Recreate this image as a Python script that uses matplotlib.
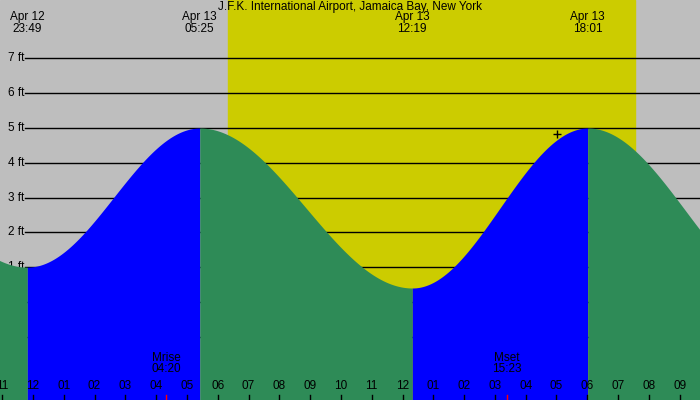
import numpy as np
import matplotlib
matplotlib.use("Agg")
import matplotlib.pyplot as plt

# extremes: hours since midnight Apr 13, height in ft
ext_hours = [-6.6, -0.183, 5.417, 12.317, 18.017, 24.4]
ext_heights = [5.0, 1.0, 5.0, 0.4, 5.0, 0.2]
ext_labels = [("Apr 12", "23:49"), ("Apr 13", "05:25"), ("Apr 13", "12:19"), ("Apr 13", "18:01")]
sunrise, sunset = 6.33, 19.55
moon_events = [(4.333, "Mrise", "04:20"), (15.383, "Mset", "15:23")]
ft_ticks = [-1, 0, 1, 2, 3, 4, 5, 6, 7]
x0, x1 = -1.07, 21.66
y0, y1 = -2.82, 8.68

plt.rcParams['font.family'] = ['Liberation Sans', 'DejaVu Sans']
fig = plt.figure(figsize=(7, 4), dpi=100)
ax = fig.add_axes([0, 0, 1, 1])
ax.set_xlim(x0, x1); ax.set_ylim(y0, y1); ax.axis('off')
ax.axvspan(x0, x1, color='#bebebe', zorder=0)
ax.axvspan(sunrise, sunset, color='#cccc00', zorder=0.5)
xl = x0 + 25/700*(x1-x0)
for f in ft_ticks:
    ax.plot([xl, x1], [f, f], color='black', lw=1, zorder=1)
    ax.text(xl - 0.02, f, f"{f} ft", ha='right', va='center', fontsize=8.5, zorder=1)

for i in range(len(ext_hours)-1):
    ha, hb = ext_hours[i], ext_hours[i+1]
    va, vb = ext_heights[i], ext_heights[i+1]
    t = np.linspace(ha, hb, 200)
    v = va + (vb - va) * (1 - np.cos(np.pi*(t-ha)/(hb-ha)))/2
    col = '#0000ff' if vb > va else '#2e8b57'
    ax.fill_between(t, y0, v, color=col, lw=0, zorder=2)

for (d, tm), h, v in zip(ext_labels, ext_hours[1:5], ext_heights[1:5]):
    ax.text(h, y1 - 0.33, f"{d}\n{tm}", ha='center', va='top', fontsize=8.5, linespacing=0.95, zorder=5)
ax.text((x0+x1)/2, y1 - 0.02, "J.F.K. International Airport, Jamaica Bay, New York", ha='center', va='top', fontsize=8.5, zorder=5)

for h in range(-1, 22):
    lab = f"{(h % 12) or 12:02d}"
    ax.text(h, y0 + 0.4, lab, ha='center', va='center', fontsize=8.5, zorder=5)
    ax.plot([h, h], [y0, y0 + 0.15], color='black', lw=1, zorder=5)
for h, name, tm in moon_events:
    ax.text(h, y0 + 1.05, f"{name}\n{tm}", ha='center', va='center', fontsize=8.5, linespacing=0.95, zorder=5)
    ax.plot([h, h], [y0, y0 + 0.15], color='red', lw=1, zorder=5)
ax.plot([17.03], [4.83], marker='+', color='black', ms=6, mew=1, zorder=5)
fig.savefig("out.png", dpi=100)
